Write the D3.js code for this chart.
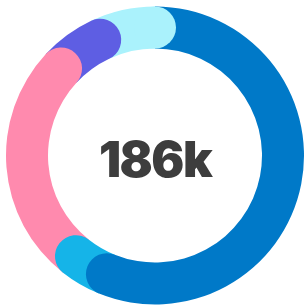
<!DOCTYPE html>
<html>
<head>
<meta charset="utf-8">
<script src="https://cdn.jsdelivr.net/npm/d3@7"></script>
<style>
  body { margin: 0; background: #fff; }
</style>
</head>
<body>
<div id="chart"></div>
<script>
// segment values, clockwise from 12 o'clock (thousands)
var categories = ["A", "B", "C", "D", "E"];
var values = [104.4, 8.3, 48.9, 11.3, 13.1];
var colors = ["#0079c8", "#15b4e8", "#ff8aae", "#5e5ee3", "#aaf2fc"];
var totalLabel = "186k";

var width = 304, height = 308;
var cx = 155, cy = 155.5;
var outer = 149, inner = 107;
var mid = (outer + inner) / 2, capR = (outer - inner) / 2;

var svg = d3.select("#chart")
    .append("svg")
    .attr("width", width)
    .attr("height", height);

var g = svg.append("g")
    .attr("transform", "translate(" + cx + "," + cy + ")");

var pie = d3.pie().sort(null).value(function (d) { return d; });
var arcs = pie(values);

// sector with a flat start and a round end cap, as one path
function segPath(d) {
    var a0 = d.startAngle - Math.PI / 2, a1 = d.endAngle - Math.PI / 2;
    var p = d3.path();
    p.moveTo(outer * Math.cos(a0), outer * Math.sin(a0));
    p.arc(0, 0, outer, a0, a1, false);
    // half circle at the end, bulging forward
    p.arc(mid * Math.cos(a1), mid * Math.sin(a1), capR, a1, a1 + Math.PI, false);
    p.arc(0, 0, inner, a1, a0, true);
    p.closePath();
    return p.toString();
}

// draw back to front so each cap sits on the next segment
g.selectAll("path.seg")
    .data(arcs.slice().reverse())
    .enter().append("path")
    .attr("class", "seg")
    .attr("d", segPath)
    .attr("fill", function (d) { return colors[d.index]; });

// last segment's cap wraps over the start of the first one
var last = arcs[arcs.length - 1];
g.append("circle")
    .attr("cx", mid * Math.sin(last.endAngle))
    .attr("cy", -mid * Math.cos(last.endAngle))
    .attr("r", capR)
    .attr("fill", colors[last.index]);

g.append("text")
    .attr("text-anchor", "middle")
    .attr("dy", "0.36em")
    .attr("y", 4)
    .style("font-family", "Inter, sans-serif")
    .style("font-weight", 900)
    .style("font-size", "49px")
    .style("letter-spacing", "-1.5px")
    .attr("fill", "#3d3d3d")
    .text(totalLabel);
</script>
</body>
</html>
